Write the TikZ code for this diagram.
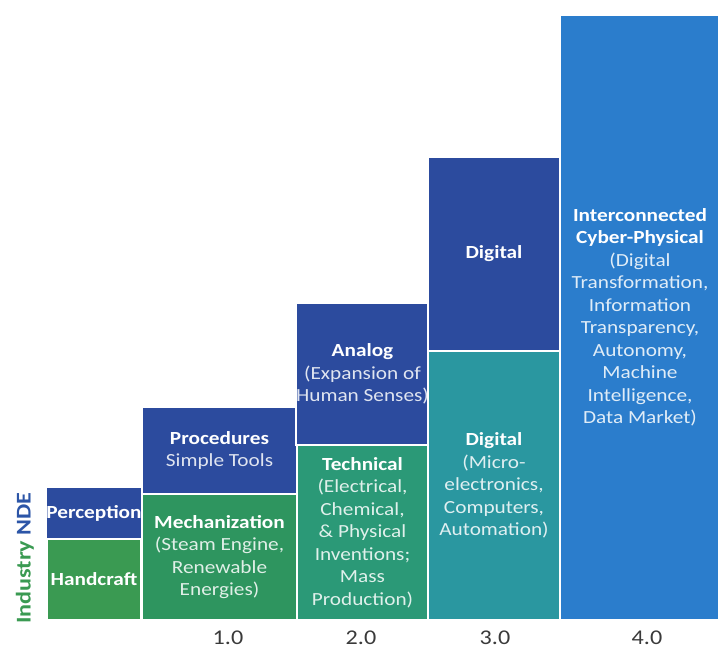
\documentclass[tikz,border=0pt]{standalone}
\usepackage{fontspec}
\setmainfont{Carlito}[FakeStretch=1.15]

\definecolor{stageblue}{HTML}{2C4B9E}
\definecolor{handgreen}{HTML}{3A9A52}
\definecolor{mechgreen}{HTML}{2E955F}
\definecolor{techgreen}{HTML}{2B9977}
\definecolor{digiteal}{HTML}{2A97A0}
\definecolor{cyberblue}{HTML}{2B7DCC}
\definecolor{labelgray}{HTML}{3A3A3A}

\tikzset{
  stage/.style={draw=white, line width=1.5pt, text=white, align=center,
    inner xsep=0pt, inner ysep=2pt, font=\fontsize{18.5}{22.5}\selectfont},
  era/.style={text=labelgray, inner sep=0pt, anchor=base, font=\fontsize{21}{24}\selectfont},
}

\begin{document}
\begin{tikzpicture}[x=1pt,y=-1pt]
  \useasboundingbox (0,0) rectangle (718,648);

  % NDE column
  \node[stage, fill=stageblue, minimum width=94, minimum height=52] (perception) at (94,513) {\textbf{Perception}};
  \node[stage, fill=handgreen, minimum width=94, minimum height=81] (handcraft) at (94,579.5) {\textbf{Handcraft}};

  % 1.0
  \node[stage, fill=stageblue, minimum width=155, minimum height=87] (procedures) at (219.5,450.5)
    {\textbf{Procedures}\\ \color{white!85!stageblue}Simple Tools};
  \node[stage, fill=mechgreen, minimum width=155, minimum height=126] (mechanization) at (219.5,557)
    {\textbf{Mechanization}\\ \color{white!85!mechgreen}(Steam Engine,\\ \color{white!85!mechgreen}Renewable\\ \color{white!85!mechgreen}Energies)};

  % 2.0
  \node[stage, fill=stageblue, minimum width=131, minimum height=142] (analog) at (362.5,374)
    {\textbf{Analog}\\ \color{white!85!stageblue}(Expansion of\\ \color{white!85!stageblue}Human Senses)};
  \node[stage, fill=techgreen, minimum width=131, minimum height=175] (technical) at (362.5,532.5)
    {\textbf{Technical}\\ \color{white!85!techgreen}(Electrical,\\ \color{white!85!techgreen}Chemical,\\ \color{white!85!techgreen}\& Physical\\
     \color{white!85!techgreen}Inventions;\\ \color{white!85!techgreen}Mass\\ \color{white!85!techgreen}Production)};

  % 3.0
  \node[stage, fill=stageblue, minimum width=132, minimum height=194] (digitaltop) at (494,254) {\textbf{Digital}};
  \node[stage, fill=digiteal, minimum width=132, minimum height=269] (digitalbot) at (494,485.5)
    {\textbf{Digital}\\ \color{white!85!digiteal}(Micro-\\ \color{white!85!digiteal}electronics,\\ \color{white!85!digiteal}Computers,\\ \color{white!85!digiteal}Automation)};

  % 4.0
  \node[stage, fill=cyberblue, minimum width=160, minimum height=605] (cyber) at (640,317.5)
    {\textbf{Interconnected}\\ \textbf{Cyber-Physical}\\ \color{white!85!cyberblue}(Digital\\ \color{white!85!cyberblue}Transformation,\\
     \color{white!85!cyberblue}Information\\ \color{white!85!cyberblue}Transparency,\\ \color{white!85!cyberblue}Autonomy,\\
     \color{white!85!cyberblue}Machine\\ \color{white!85!cyberblue}Intelligence,\\ \color{white!85!cyberblue}Data Market)};

  % era labels
  \node[era] (era1) at (228,644) {1.0};
  \node[era] (era2) at (361,644) {2.0};
  \node[era] (era3) at (495,644) {3.0};
  \node[era] (era4) at (647,644) {4.0};

  \node[rotate=90, font=\fontsize{21}{22}\selectfont\bfseries] (axis) at (25,558)
    {\textcolor{handgreen}{Industry} \textcolor{stageblue!80!cyberblue}{NDE}};
\end{tikzpicture}
\end{document}
